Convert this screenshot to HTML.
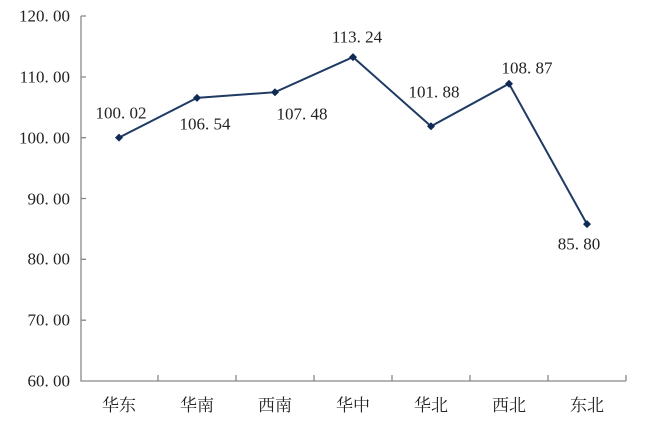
<!DOCTYPE html><html><head><meta charset="utf-8"><style>body{margin:0;background:#fff}svg{display:block}text{font-family:"Liberation Serif","Noto Serif CJK SC",serif;font-size:17px;fill:#222}</style></head><body>
<svg width="654" height="421" viewBox="0 0 654 421">
<g stroke="#888" stroke-width="1.3" fill="none">
<path d="M81 16V381H626"/>
<path d="M81 16h5M81 77h5M81 137.7h5M81 198.5h5M81 259.3h5M81 320.2h5"/>
<path d="M158 381v-6M236 381v-6M314 381v-6M392 381v-6M470 381v-6M548 381v-6M626 381v-6"/>
</g>
<g text-anchor="end" dominant-baseline="central">
<text x="70" y="16">120. 00</text><text x="70" y="77">110. 00</text><text x="70" y="138">100. 00</text><text x="70" y="199">90. 00</text><text x="70" y="259">80. 00</text><text x="70" y="320">70. 00</text><text x="70" y="381">60. 00</text>
</g>
<g text-anchor="middle" style="font-size:17px">
<text x="119" y="411">华东</text><text x="197" y="411">华南</text><text x="275" y="411">西南</text><text x="353" y="411">华中</text><text x="431" y="411">华北</text><text x="509" y="411">西北</text><text x="587" y="411">东北</text>
</g>
<polyline points="119,137.6 197,97.9 275,92.2 353,57.1 431,126.3 509,83.7 587,224.1" fill="none" stroke="#1f3b63" stroke-width="2"/>
<g fill="#0f2a55">
<path d="M119 133.6l4 4-4 4-4-4z"/><path d="M197 93.9l4 4-4 4-4-4z"/><path d="M275 88.2l4 4-4 4-4-4z"/><path d="M353 53.1l4 4-4 4-4-4z"/><path d="M431 122.3l4 4-4 4-4-4z"/><path d="M509 79.7l4 4-4 4-4-4z"/><path d="M587 220.1l4 4-4 4-4-4z"/>
</g>
<g text-anchor="middle" dominant-baseline="central">
<text x="121" y="113">100. 02</text><text x="205" y="124">106. 54</text><text x="302" y="114">107. 48</text><text x="357" y="37">113. 24</text><text x="434" y="92">101. 88</text><text x="527" y="68">108. 87</text><text x="579" y="244">85. 80</text>
</g>
</svg></body></html>
